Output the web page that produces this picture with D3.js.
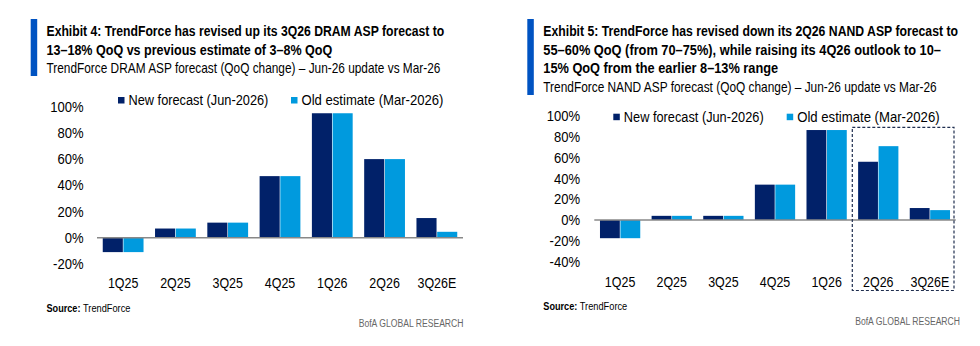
<!DOCTYPE html>
<html>
<head>
<meta charset="utf-8">
<script src="https://cdn.jsdelivr.net/npm/d3@7"></script>
<style>
  body { margin: 0; background: #fff; }
  svg text { font-family: "Liberation Sans", Arial, sans-serif; }
</style>
</head>
<body>
<div id="chart"></div>
<script>
// quarters on the x axis
var quarters = ["1Q25", "2Q25", "3Q25", "4Q25", "1Q26", "2Q26", "3Q26E"];

// DRAM ASP QoQ change (%)
var dramNew = [-11, 7, 11.5, 47, 95, 60, 15];
var dramOld = [-11, 7, 11.5, 47, 95, 60, 4.5];
var dramTicks = [-20, 0, 20, 40, 60, 80, 100];

// NAND ASP QoQ change (%)
var nandNew = [-17.5, 4, 4, 34, 86.5, 56, 11.5];
var nandOld = [-17.5, 4, 4, 34, 86.5, 71, 9.5];
var nandTicks = [-40, -20, 0, 20, 40, 60, 80, 100];

var seriesNames = ["New forecast (Jun-2026)", "Old estimate (Mar-2026)"];
var navy = "#012169";
var sky = "#009ADE";

var svg = d3.select("#chart").append("svg")
  .attr("width", 980)
  .attr("height", 346);

// place a text at (x, y) and squeeze it horizontally to width w
// (the original uses a condensed face we don't have)
function placeFit(sel, x, y, w) {
  var n = sel.node().getComputedTextLength();
  sel.attr("x", 0).attr("y", 0)
    .attr("transform", `translate(${x}, ${y}) scale(${w / n}, 1)`);
  return sel;
}
// squeeze each text of a selection by a ratio, around its anchor
function condense(sel, ratio) {
  sel.attr("transform", `scale(${ratio}, 1)`);
}

// one exhibit panel
function drawPanel(cfg) {
  var g = svg.append("g");

  // blue bar left of the title
  g.append("rect")
    .attr("x", cfg.barX).attr("y", 19)
    .attr("width", 6.5).attr("height", cfg.barH)
    .attr("fill", "#0053C2");

  cfg.title.forEach(function(line, i) {
    var t = g.append("text")
      .attr("font-size", 14).attr("font-weight", "bold")
      .attr("fill", "#000")
      .text(line);
    placeFit(t, cfg.textX, 36 + i * 18.5, cfg.titleW[i]);
  });
  var sub = g.append("text")
    .attr("font-size", 14).attr("fill", "#000")
    .text(cfg.subtitle);
  placeFit(sub, cfg.textX, 36 + cfg.title.length * 18.5, cfg.subW);

  var x = d3.scaleBand()
    .domain(quarters)
    .range(cfg.xRange)
    .paddingInner(0.22)
    .paddingOuter(0.11);

  var xs = d3.scaleBand()
    .domain([0, 1])
    .range([0, x.bandwidth()])
    .paddingInner(0.03);

  var y = d3.scaleLinear()
    .domain([cfg.ticks[0], 100])
    .range(cfg.yRange);

  // y axis labels only, no line
  var yAxis = g.append("g")
    .attr("transform", `translate(${cfg.yLabelX}, 0)`)
    .call(d3.axisLeft(y).tickValues(cfg.ticks).tickSize(0).tickPadding(0).tickFormat(d => d + "%"));
  yAxis.select(".domain").remove();
  yAxis.attr("font-family", null).attr("font-size", null);
  yAxis.selectAll("text")
    .attr("font-size", 14.5).attr("fill", "#000");
  condense(yAxis.selectAll("text"), 0.9);

  // bars
  var groups = g.selectAll("g.cat")
    .data(quarters)
    .enter()
    .append("g")
    .attr("class", "cat")
    .attr("transform", d => `translate(${x(d)}, 0)`);

  groups.selectAll("rect")
    .data((d, i) => [cfg.newVals[i], cfg.oldVals[i]])
    .enter()
    .append("rect")
    .attr("x", (d, j) => xs(j))
    .attr("width", xs.bandwidth())
    .attr("y", d => y(Math.max(0, d)))
    .attr("height", d => Math.abs(y(d) - y(0)))
    .attr("fill", (d, j) => j === 0 ? navy : sky);

  // zero line
  g.append("line")
    .attr("x1", cfg.xRange[0]).attr("x2", cfg.xRange[1])
    .attr("y1", y(0)).attr("y2", y(0))
    .attr("stroke", "#888").attr("stroke-width", 1.5);

  // x axis labels
  var xAxis = g.append("g")
    .attr("transform", `translate(0, ${cfg.xLabelY})`)
    .call(d3.axisBottom(x).tickSize(0).tickPadding(0));
  xAxis.select(".domain").remove();
  xAxis.attr("font-family", null).attr("font-size", null);
  xAxis.selectAll("text")
    .attr("font-size", 14.5).attr("fill", "#000")
    .attr("dy", "0.35em");
  condense(xAxis.selectAll("text"), 0.86);

  // legend
  seriesNames.forEach(function(name, i) {
    var lx = cfg.legendX[i];
    g.append("rect")
      .attr("x", lx).attr("y", cfg.legendY - 3)
      .attr("width", 6.5).attr("height", 6.5)
      .attr("fill", i === 0 ? navy : sky);
    var t = g.append("text")
      .attr("dy", "0.35em")
      .attr("font-size", 15).attr("fill", "#000")
      .text(name);
    placeFit(t, lx + 10.5, cfg.legendY, cfg.legendW[i]);
  });

  // source & footer
  var srcLabel = g.append("text")
    .attr("dy", "0.35em")
    .attr("font-size", 11).attr("font-weight", "bold").attr("fill", "#000")
    .text("Source:");
  placeFit(srcLabel, cfg.textX, cfg.sourceY, 34);
  var srcName = g.append("text")
    .attr("dy", "0.35em")
    .attr("font-size", 11).attr("fill", "#000")
    .text("TrendForce");
  placeFit(srcName, cfg.textX + 36.5, cfg.sourceY, 47.5);

  var foot = g.append("text")
    .attr("dy", "0.35em")
    .attr("text-anchor", "end")
    .attr("font-size", 11).attr("fill", "#666")
    .text("BofA GLOBAL RESEARCH");
  placeFit(foot, cfg.footX, cfg.sourceY + 15, 105);

  return { g: g, x: x, y: y };
}

drawPanel({
  barX: 30.7, barH: 57, textX: 46.5,
  title: ["Exhibit 4: TrendForce has revised up its 3Q26 DRAM ASP forecast to",
          "13\u201318% QoQ vs previous estimate of 3\u20138% QoQ"],
  titleW: [398, 286], subW: 394,
  subtitle: "TrendForce DRAM ASP forecast (QoQ change) \u2013 Jun-26 update vs Mar-26",
  xRange: [97, 463], yRange: [263.9, 106.7], ticks: dramTicks,
  newVals: dramNew, oldVals: dramOld,
  yLabelX: 83.5, xLabelY: 282.7,
  legendX: [118, 291], legendY: 100, legendW: [140, 142],
  sourceY: 308.3, footX: 463.5
});

var right = drawPanel({
  barX: 527.3, barH: 76, textX: 543.3,
  title: ["Exhibit 5: TrendForce has revised down its 2Q26 NAND ASP forecast to",
          "55\u201360% QoQ (from 70\u201375%), while raising its 4Q26 outlook to 10\u2013",
          "15% QoQ from the earlier 8\u201313% range"],
  titleW: [415, 398, 235], subW: 394,
  subtitle: "TrendForce NAND ASP forecast (QoQ change) \u2013 Jun-26 update vs Mar-26",
  xRange: [594.3, 955.7], yRange: [261.6, 116], ticks: nandTicks,
  newVals: nandNew, oldVals: nandOld,
  yLabelX: 580, xLabelY: 281.7,
  legendX: [613.3, 786.7], legendY: 116.7, legendW: [140, 142.5],
  sourceY: 306, footX: 960
});

// dashed highlight around 2Q26 and 3Q26E
right.g.append("rect")
  .attr("x", 852.3).attr("y", 127.3)
  .attr("width", 101.7).attr("height", 163.2)
  .attr("fill", "none")
  .attr("stroke", "#1F2E4F").attr("stroke-width", 1.2)
  .attr("stroke-dasharray", "3,2");
</script>
</body>
</html>
